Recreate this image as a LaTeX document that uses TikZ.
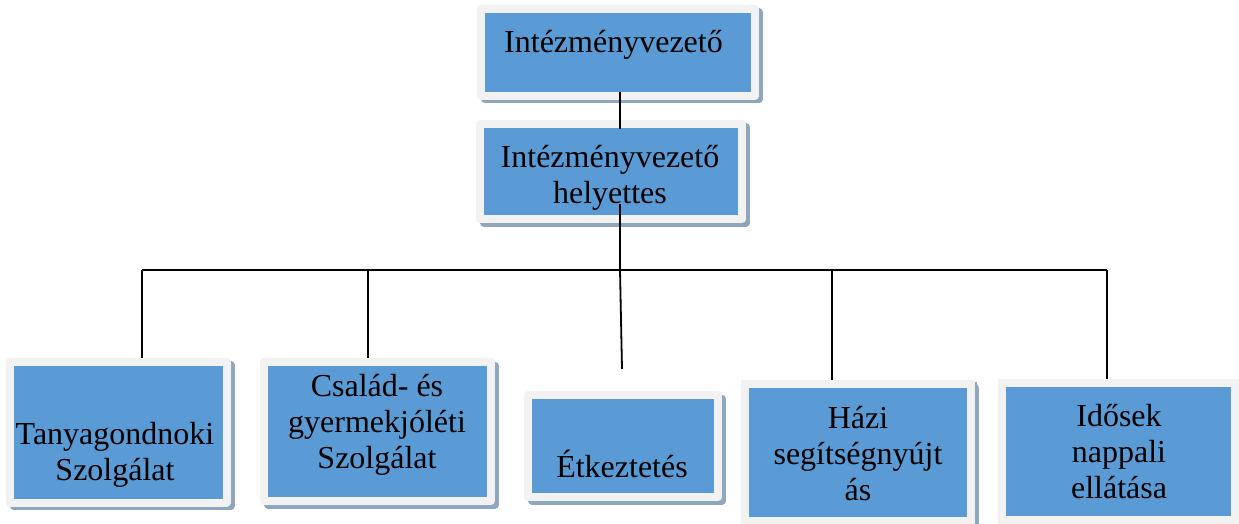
\documentclass[tikz,border=0pt]{standalone}
\usepackage{fontspec}
\setmainfont{Liberation Serif}
\usepackage{xcolor}
\usetikzlibrary{positioning,calc}
\definecolor{boxblue}{HTML}{5B9BD5}
\definecolor{framegray}{HTML}{F2F2F2}
\definecolor{shadowc}{HTML}{8EA6BE}
\tikzset{
  unit/.style={fill=boxblue, draw=framegray, line width=8pt, line join=round, inner sep=0pt,
    preaction={draw=shadowc, fill=shadowc, line width=8pt, line join=round, transform canvas={shift={(4pt,-3.5pt)}}}},
  flatunit/.style={unit, line join=miter,
    preaction={draw=shadowc, line width=8pt, transform canvas={shift={(2pt,-2pt)}}}},
  label text/.style={anchor=base, align=center, inner sep=0pt, font=\fontsize{32}{36}\selectfont},
  conn/.style={line width=1.8pt}
}
\begin{document}
\begin{tikzpicture}[x=1pt, y=-1pt]
    \clip (0,0) rectangle (1239,524);
    \fill[white] (0,0) rectangle (1239,524);
    % boxes
    \node[unit, minimum width=273.5pt, minimum height=87pt] (top) at (618,52.5) {};
    \node[unit, minimum width=262.5pt, minimum height=95pt] (hely) at (611,171.5) {};
    \node[unit, minimum width=217pt, minimum height=141pt] (tanya) at (118,432) {};
    \node[unit, minimum width=227pt, minimum height=139pt] (csal) at (377.5,431.5) {};
    \node[unit, minimum width=190pt, minimum height=102pt] (etk) at (623,446) {};
    \node[flatunit, minimum width=226pt, minimum height=137pt] (hazi) at (858,452.5) {};
    \node[flatunit, minimum width=233pt, minimum height=137pt] (idos) at (1118.5,451.5) {};
    % texts (base = last line)
    \node[label text] (ttop) at (613.5,53) {Intézményvezető};
    \node[label text] (thely) at (610,203) {Intézményvezető\\helyettes};
    \node[label text] (ttanya) at (115,480) {Tanyagondnoki\\Szolgálat};
    \node[label text] (tcsal) at (377,468) {Család- és\\gyermekjóléti\\Szolgálat};
    \node[label text] (tetk) at (622,477) {Étkeztetés};
    \node[label text] (thazi) at (858,500) {Házi\\segítségnyújt\\ás};
    \node[label text] (tidos) at (1119,498) {Idősek\\nappali\\ellátása};
    % connectors
    \coordinate (j1) at (142,270); \coordinate (j2) at (368,270); \coordinate (jm) at (620,270);
    \coordinate (j4) at (832,270); \coordinate (j5) at (1107,270);
    \draw[conn] ([xshift=2pt,yshift=8pt]top.south) -- ([xshift=9pt,yshift=-9pt]hely.north);
    \draw[conn] ([xshift=9pt,yshift=19pt]hely.south) -- (jm) -- ([xshift=-1pt,yshift=22pt]etk.north);
    \draw[conn] (j1) -- (j5);
    \draw[conn] (j1) -- (j1 |- tanya.north);
    \draw[conn] (j2) -- (j2 |- csal.north);
    \draw[conn] (j4) -- (j4 |- hazi.north);
    \draw[conn] (j5) -- (j5 |- idos.north);
\end{tikzpicture}
\end{document}
